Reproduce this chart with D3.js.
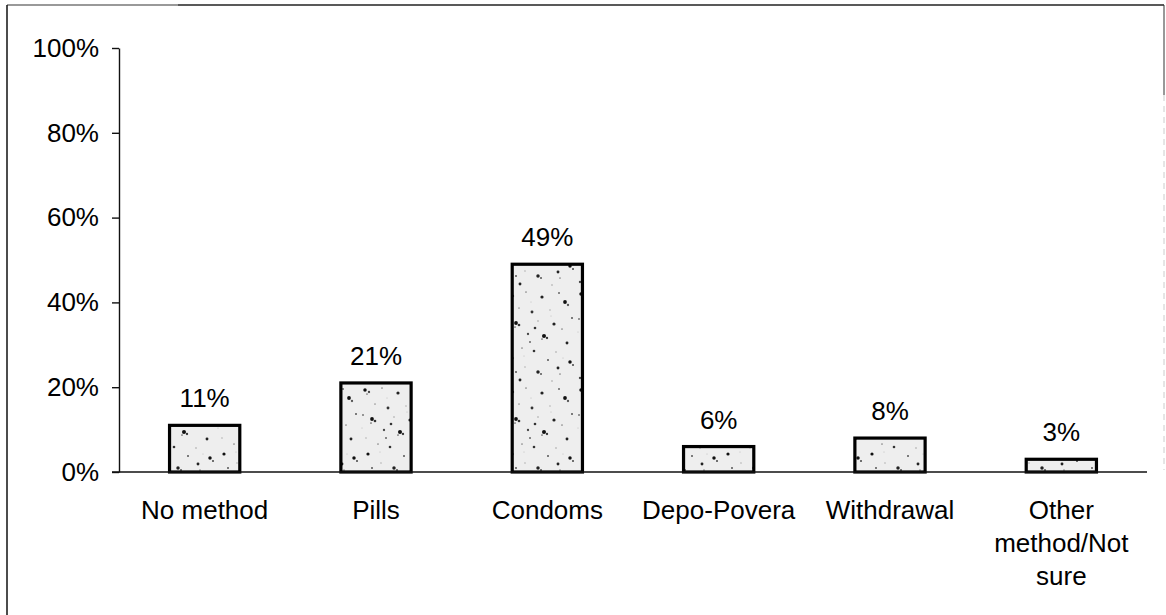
<!DOCTYPE html>
<html>
<head>
<meta charset="utf-8">
<script src="https://cdn.jsdelivr.net/npm/d3@7"></script>
<style>
  html, body { margin: 0; padding: 0; background: #fff; }
  svg { display: block; }
  text { font-family: "Liberation Sans", Arial, Helvetica, sans-serif; fill: #000; }
</style>
</head>
<body>
<svg id="chart" width="1166" height="615"></svg>
<script>
// Contraceptive method used
const categories = ["No method", "Pills", "Condoms", "Depo-Povera", "Withdrawal", "Other method/Not sure"];
const values = [11, 21, 49, 6, 8, 3];
const yTicks = [0, 20, 40, 60, 80, 100];

const W = 1166, H = 615;
const margin = { left: 119, right: 19, top: 48, bottom: 143 };
const svg = d3.select("#chart");

// Speckled fill for the bars: irregular dark flecks on a pale grey ground
const defs = svg.append("defs");
const pat = defs.append("pattern")
  .attr("id", "speckle")
  .attr("patternUnits", "userSpaceOnUse")
  .attr("width", 72).attr("height", 96);
pat.append("rect").attr("width", 72).attr("height", 96).attr("fill", "#eeeeee");
const specks = [
  [5, 6, 1.2, "#111"], [9, 8, 0.8, "#444"], [7, 10, 0.6, "#777"], [22, 4, 0.6, "#888"],
  [38, 9, 1.1, "#222"], [55, 5, 0.7, "#666"], [61, 14, 1.3, "#111"], [64, 17, 0.8, "#555"],
  [15, 20, 0.6, "#999"], [28, 24, 1.0, "#333"], [46, 22, 0.5, "#aaa"], [3, 31, 0.7, "#777"],
  [12, 35, 1.3, "#111"], [15, 37, 0.9, "#333"], [11, 39, 0.6, "#666"], [34, 33, 0.5, "#999"],
  [50, 36, 1.1, "#222"], [58, 41, 0.6, "#888"], [68, 30, 0.7, "#555"], [24, 46, 0.8, "#444"],
  [40, 48, 1.4, "#111"], [43, 50, 0.8, "#333"], [38, 51, 0.6, "#666"], [6, 54, 0.5, "#aaa"],
  [63, 55, 1.0, "#222"], [18, 60, 0.6, "#888"], [30, 63, 0.9, "#333"], [52, 64, 0.5, "#999"],
  [8, 70, 1.1, "#111"], [44, 72, 0.7, "#555"], [66, 74, 1.2, "#111"], [69, 77, 0.7, "#444"],
  [21, 79, 0.5, "#aaa"], [34, 84, 1.2, "#222"], [37, 86, 0.7, "#555"], [56, 86, 0.6, "#888"],
  [4, 90, 0.8, "#444"], [16, 92, 1.0, "#222"], [48, 93, 0.5, "#999"], [27, 14, 0.4, "#bbb"],
  [47, 28, 0.4, "#bbb"], [20, 68, 0.4, "#bbb"], [59, 70, 0.4, "#bbb"], [2, 44, 0.4, "#bbb"],
  [31, 40, 0.9, "#333"], [54, 80, 1.0, "#222"], [12, 84, 0.7, "#555"], [26, 54, 0.7, "#666"]
];
pat.selectAll("circle").data(specks).join("circle")
  .attr("cx", d => d[0]).attr("cy", d => d[1]).attr("r", d => d[2] * 1.45).attr("fill", d => d[3]);

// Outer frame
const frame = svg.append("g");
frame.append("line").attr("x1", 7).attr("y1", 5).attr("x2", 178).attr("y2", 5)
  .attr("stroke", "#777").attr("stroke-width", 1.5);
frame.append("line").attr("x1", 178).attr("y1", 5).attr("x2", 1164).attr("y2", 5)
  .attr("stroke", "#222").attr("stroke-width", 1.5);
frame.append("line").attr("x1", 7).attr("y1", 5).attr("x2", 7).attr("y2", H)
  .attr("stroke", "#111").attr("stroke-width", 1.5);
frame.append("line").attr("x1", 1164).attr("y1", 5).attr("x2", 1164).attr("y2", 95)
  .attr("stroke", "#333").attr("stroke-width", 1);
frame.append("line").attr("x1", 1164).attr("y1", 95).attr("x2", 1164).attr("y2", 470)
  .attr("stroke", "#ccc").attr("stroke-width", 1).attr("stroke-dasharray", "6 5");

// Scales
const x = d3.scaleBand()
  .domain(categories)
  .range([margin.left, W - margin.right])
  .paddingInner(0.59).paddingOuter(0.295);
const y = d3.scaleLinear().domain([0, 100]).range([H - margin.bottom, margin.top]);

// Y axis
const yAxis = d3.axisLeft(y).tickValues(yTicks).tickFormat(d => d + "%")
  .tickSizeInner(7).tickSizeOuter(0).tickPadding(13);
const gy = svg.append("g").attr("transform", `translate(${margin.left},0)`).call(yAxis);
gy.select(".domain").attr("stroke", "#111").attr("stroke-width", 1.4);
gy.selectAll(".tick line").attr("stroke", "#111").attr("stroke-width", 1.4);
gy.selectAll(".tick text").attr("font-size", 26).attr("fill", "#000")
  .attr("font-family", '"Liberation Sans", Arial, sans-serif');

// Bars
svg.append("g").selectAll("rect").data(categories).join("rect")
  .attr("x", d => x(d))
  .attr("y", (d, i) => y(values[i]))
  .attr("width", x.bandwidth())
  .attr("height", (d, i) => y(0) - y(values[i]))
  .attr("fill", "url(#speckle)")
  .attr("stroke", "#000")
  .attr("stroke-width", 3.2);

// X axis baseline with category labels
const xAxis = d3.axisBottom(x).tickSize(0).tickPadding(0);
const gx = svg.append("g").attr("transform", `translate(0,${y(0)})`).call(xAxis);
gx.select(".domain").attr("stroke", "#111").attr("stroke-width", 1.4)
  .attr("d", `M${margin.left - 7},0H${W - margin.right}`);
gx.selectAll(".tick text").attr("font-size", 26).attr("fill", "#000")
  .attr("font-family", '"Liberation Sans", Arial, sans-serif')
  .attr("y", 47).attr("dy", null)
  .each(function (d) {
    const t = d3.select(this);
    const words = d.split(" ");
    const maxW = 150;
    t.text(null);
    let line = [], lineNo = 0;
    let ts = t.append("tspan").attr("x", 0).attr("y", 47);
    words.forEach(w => {
      line.push(w);
      ts.text(line.join(" "));
      if (ts.node().getComputedTextLength() > maxW && line.length > 1) {
        line.pop();
        ts.text(line.join(" "));
        line = [w];
        lineNo++;
        ts = t.append("tspan").attr("x", 0).attr("y", 47 + lineNo * 33).text(w);
      }
    });
  });

// Value labels
svg.append("g").selectAll("text").data(categories).join("text")
  .attr("x", d => x(d) + x.bandwidth() / 2)
  .attr("y", (d, i) => y(values[i]) - 18)
  .attr("text-anchor", "middle")
  .attr("font-size", 26)
  .text((d, i) => values[i] + "%");
</script>
</body>
</html>
